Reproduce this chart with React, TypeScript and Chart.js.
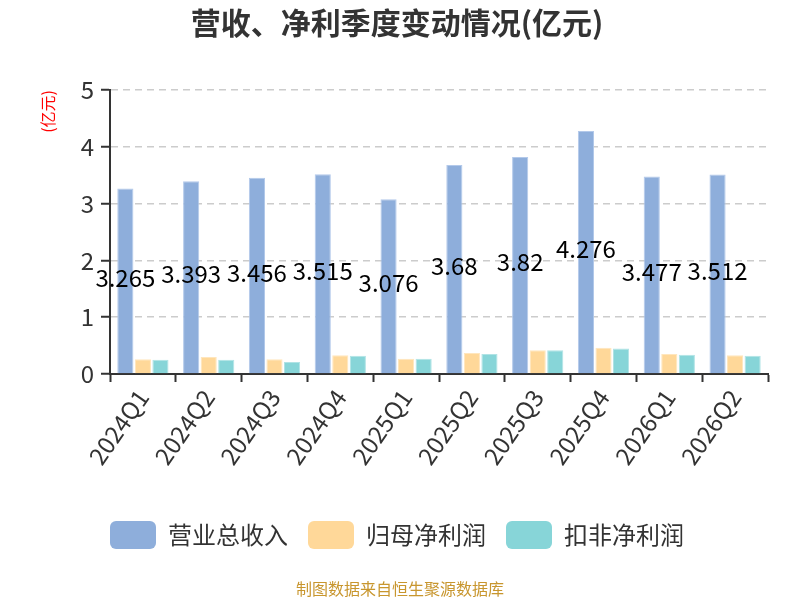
import React, { useEffect, useRef } from "react";
import { Chart, registerables, Plugin } from "chart.js";

Chart.register(...registerables);

const quarters = [
  "2024Q1", "2024Q2", "2024Q3", "2024Q4", "2025Q1",
  "2025Q2", "2025Q3", "2025Q4", "2026Q1", "2026Q2",
];
const revenue = [3.265, 3.393, 3.456, 3.515, 3.076, 3.68, 3.82, 4.276, 3.477, 3.512];
const netProfit = [0.26, 0.3, 0.26, 0.33, 0.27, 0.37, 0.42, 0.46, 0.35, 0.33];
const deductedProfit = [0.25, 0.25, 0.21, 0.32, 0.27, 0.35, 0.42, 0.45, 0.34, 0.32];
const yTicks = [0, 1, 2, 3, 4, 5];

const FONT = "'Noto Sans CJK SC', 'Noto Sans', sans-serif";

// revenue values written in the middle of the blue bars
const valueLabels: Plugin<"bar"> = {
  id: "valueLabels",
  afterDatasetsDraw(chart) {
    const meta = chart.getDatasetMeta(0);
    const { ctx } = chart;
    ctx.save();
    ctx.font = `24px ${FONT}`;
    ctx.fillStyle = "#000";
    ctx.textAlign = "center";
    ctx.textBaseline = "middle";
    meta.data.forEach((bar: any, i) => {
      ctx.fillText(String(revenue[i]), bar.x, (bar.y + bar.base) / 2 - 3);
    });
    ctx.restore();
  },
};

const footer: Plugin<"bar"> = {
  id: "footer",
  afterDraw(chart) {
    const { ctx } = chart;
    ctx.save();
    ctx.font = `16px ${FONT}`;
    ctx.fillStyle = "#c8962e";
    ctx.textAlign = "center";
    ctx.textBaseline = "middle";
    ctx.fillText("制图数据来自恒生聚源数据库", chart.width / 2, 589);
    ctx.restore();
  },
};

const App: React.FC = () => {
  const canvasRef = useRef<HTMLCanvasElement | null>(null);
  const chartRef = useRef<Chart | null>(null);

  useEffect(() => {
    document.body.style.margin = "0";
    if (chartRef.current) chartRef.current.destroy();
    const ctx = canvasRef.current?.getContext("2d");
    if (!ctx) return;

    chartRef.current = new Chart(ctx, {
      type: "bar",
      data: {
        labels: quarters,
        datasets: [
          {
            label: "营业总收入",
            data: revenue,
            backgroundColor: "#8eaedb",
            borderColor: "#b3c9ea",
            borderWidth: 1,
          },
          {
            label: "归母净利润",
            data: netProfit,
            backgroundColor: "#ffd899",
            borderColor: "#ffe6bd",
            borderWidth: 1,
          },
          {
            label: "扣非净利润",
            data: deductedProfit,
            backgroundColor: "#87d5d8",
            borderColor: "#b0e3e5",
            borderWidth: 1,
          },
        ],
      },
      options: {
        animation: false,
        responsive: false,
        categoryPercentage: 0.8,
        barPercentage: 0.92,
        layout: { padding: { left: 26, right: 32, top: 0, bottom: 41 } },
        plugins: {
          title: {
            display: true,
            text: "营收、净利季度变动情况(亿元)",
            color: "#333",
            font: { size: 30, weight: "bold", family: FONT },
            padding: { top: 5, bottom: 49 },
          },
          legend: {
            position: "bottom",
            labels: {
              boxWidth: 46,
              boxHeight: 28,
              useBorderRadius: true,
              borderRadius: 6,
              color: "#333",
              padding: 20,
              font: { size: 24, family: FONT },
              generateLabels(chart) {
                return chart.data.datasets.map((ds, i) => ({
                  text: ds.label as string,
                  fillStyle: ds.backgroundColor as string,
                  strokeStyle: ds.backgroundColor as string,
                  lineWidth: 0,
                  borderRadius: 6,
                  fontColor: "#333",
                  hidden: !chart.isDatasetVisible(i),
                  datasetIndex: i,
                }));
              },
            },
          },
          tooltip: { enabled: false },
        },
        scales: {
          x: {
            grid: {
              offset: true,
              drawOnChartArea: false,
              tickLength: 8,
              tickWidth: 2,
              tickColor: "#333",
            },
            border: { color: "#333", width: 2 },
            ticks: {
              color: "#333",
              font: { size: 24, family: FONT },
              minRotation: 55,
              maxRotation: 55,
              autoSkip: false,
              padding: 2,
            },
            afterFit(scale) {
              scale.height = 127;
            },
          },
          y: {
            min: yTicks[0],
            max: yTicks[yTicks.length - 1],
            afterBuildTicks(scale) {
              scale.ticks = yTicks.map((v) => ({ value: v }));
            },
            grid: {
              color: "#cccccc",
              lineWidth: 1.5,
              tickLength: 9,
              tickWidth: 2,
              tickColor: "#333",
            },
            border: { color: "#333", width: 2, dash: [7, 5] },
            ticks: {
              color: "#333",
              font: { size: 24, family: FONT },
              padding: 7,
            },
            title: {
              display: true,
              text: "(亿元)",
              color: "#ff0000",
              align: "end",
              font: { size: 16, family: FONT },
              padding: { top: 12, bottom: 10 },
            },
            afterFit(scale) {
              scale.width = 84;
            },
          },
        },
      },
      plugins: [valueLabels, footer],
    });

    return () => {
      if (chartRef.current) chartRef.current.destroy();
      chartRef.current = null;
    };
  }, []);

  return (
    <div style={{ position: "absolute", left: 0, top: 0, width: 800, height: 600, background: "#fff" }}>
      <canvas ref={canvasRef} width={800} height={600} style={{ width: 800, height: 600 }}></canvas>
    </div>
  );
};

export default App;
